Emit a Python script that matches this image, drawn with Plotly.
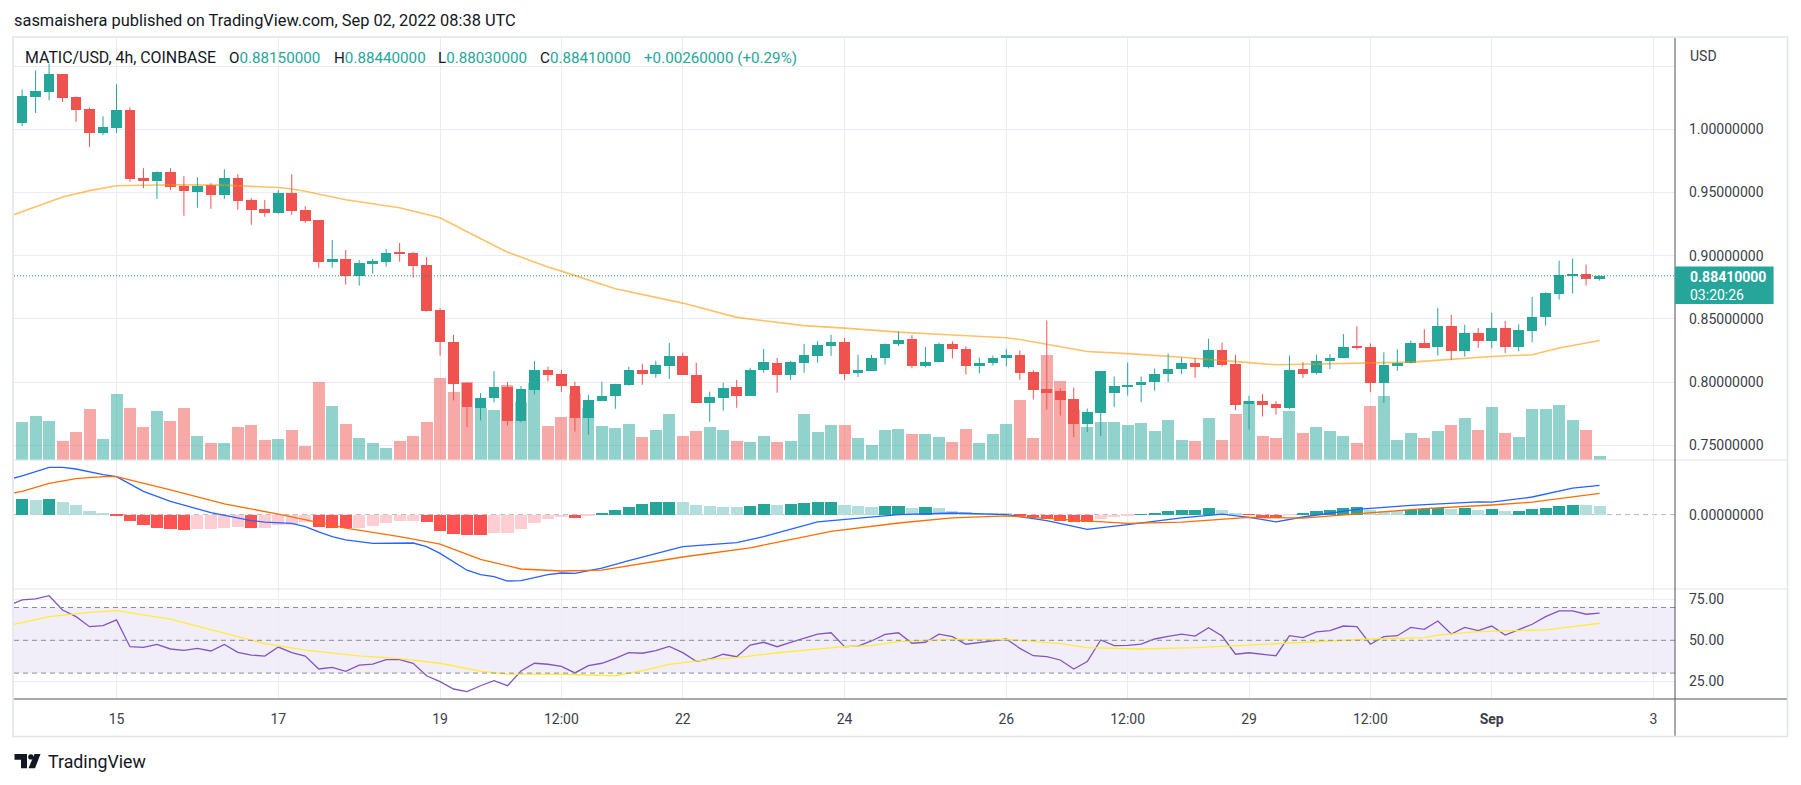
import plotly.graph_objects as go
from datetime import datetime, timedelta

# ---------------- data (MATIC/USD 4h, Coinbase) ----------------
first_bar = datetime(2022, 8, 13, 20, 0)      # time of bar #1 (UTC)
bar_hours = 4

opens = [1.005, 1.0255, 1.0295, 1.0434, 1.0253, 1.0158, 0.9971, 1.0008, 1.015, 0.9613,
         0.9592, 0.966, 0.9553, 0.9505, 0.9558, 0.9482, 0.9613, 0.944, 0.9368, 0.934,
         0.9495, 0.936, 0.9282, 0.8953, 0.8974, 0.8842, 0.8937, 0.8953, 0.9029, 0.9021,
         0.8926, 0.8571, 0.8318, 0.7995, 0.7797, 0.7871, 0.7963, 0.7689, 0.7939, 0.8095,
         0.8066, 0.7971, 0.7718, 0.7853, 0.7892, 0.7979, 0.8097, 0.8066, 0.8129, 0.8208,
         0.8058, 0.7837, 0.7876, 0.7963, 0.7892, 0.8097, 0.8153, 0.8058, 0.8153, 0.8208,
         0.8287, 0.8318, 0.8069, 0.8089, 0.8188, 0.8301, 0.834, 0.8131, 0.816, 0.8301,
         0.8264, 0.8131, 0.8154, 0.8188, 0.8216, 0.8076, 0.7944, 0.7926, 0.787, 0.7665,
         0.7752, 0.7912, 0.7968, 0.7976, 0.7999, 0.8063, 0.8102, 0.8154, 0.8123, 0.8255,
         0.8146, 0.7827, 0.7849, 0.7827, 0.7799, 0.8103, 0.8069, 0.8165, 0.8188, 0.8278,
         0.8278, 0.7996, 0.8131, 0.8154, 0.8312, 0.8278, 0.8447, 0.825, 0.8391, 0.8323,
         0.843, 0.8278, 0.8408, 0.8512, 0.8695, 0.8836, 0.8856, 0.8815]
highs = [1.0316, 1.0466, 1.052, 1.0434, 1.026, 1.0171, 1.0103, 1.0355, 1.0174, 0.9692,
         0.9668, 0.9692, 0.9629, 0.9621, 0.9574, 0.9684, 0.9645, 0.9455, 0.944, 0.9518,
         0.9645, 0.9392, 0.9282, 0.9124, 0.9045, 0.8966, 0.8974, 0.9053, 0.91, 0.9029,
         0.8989, 0.8584, 0.8374, 0.8000, 0.7913, 0.8087, 0.8, 0.7968, 0.8166, 0.8121,
         0.8097, 0.8003, 0.79, 0.8003, 0.7987, 0.8121, 0.8145, 0.8168, 0.8311, 0.8232,
         0.8153, 0.7924, 0.7995, 0.8018, 0.8113, 0.8263, 0.8192, 0.8168, 0.8303, 0.8326,
         0.8374, 0.835, 0.8216, 0.8216, 0.8306, 0.84, 0.8371, 0.8278, 0.8312, 0.8323,
         0.8284, 0.8193, 0.821, 0.8264, 0.825, 0.8094, 0.8487, 0.7952, 0.7957, 0.7791,
         0.8084, 0.8044, 0.8155, 0.8044, 0.8107, 0.8226, 0.8194, 0.8188, 0.8343, 0.8312,
         0.8216, 0.7892, 0.7906, 0.7849, 0.821, 0.8159, 0.8216, 0.8222, 0.838, 0.8442,
         0.8306, 0.8236, 0.8258, 0.8329, 0.8419, 0.8588, 0.8532, 0.8453, 0.8427, 0.8549,
         0.8484, 0.8456, 0.8673, 0.871, 0.8961, 0.8977, 0.893, 0.8844]
lows = [1.0026, 1.0129, 1.0229, 1.0216, 1.0058, 0.986, 0.9955, 0.9971, 0.9584, 0.9534,
        0.945, 0.952, 0.9316, 0.9379, 0.9371, 0.945, 0.9363, 0.9245, 0.9308, 0.9332,
        0.9324, 0.926, 0.8905, 0.8905, 0.8771, 0.8763, 0.8858, 0.8913, 0.8953, 0.8826,
        0.8558, 0.821, 0.7855, 0.7642, 0.7697, 0.7839, 0.7658, 0.7682, 0.7903, 0.8005,
        0.7924, 0.7608, 0.7584, 0.7853, 0.7789, 0.7971, 0.7979, 0.8034, 0.8026, 0.8058,
        0.7837, 0.7687, 0.7774, 0.7797, 0.7892, 0.8074, 0.7916, 0.8018, 0.8074, 0.8153,
        0.8208, 0.8018, 0.8041, 0.8089, 0.814, 0.8287, 0.8109, 0.8117, 0.8154, 0.8188,
        0.8061, 0.8069, 0.8131, 0.8126, 0.8019, 0.7862, 0.7783, 0.7736, 0.7565, 0.7604,
        0.7573, 0.7802, 0.7894, 0.7841, 0.7933, 0.7999, 0.8063, 0.8033, 0.8109, 0.8123,
        0.7779, 0.7624, 0.7728, 0.7742, 0.7787, 0.8033, 0.8061, 0.8103, 0.8188, 0.8258,
        0.792, 0.7835, 0.8089, 0.8146, 0.8267, 0.821, 0.8174, 0.8202, 0.8272, 0.8267,
        0.823, 0.8244, 0.8315, 0.8447, 0.8653, 0.8701, 0.8763, 0.8803]
closes = [1.026, 1.030, 1.0434, 1.0247, 1.0153, 0.9971, 1.0016, 1.015, 0.9608, 0.9592,
          0.966, 0.9545, 0.9513, 0.9553, 0.9482, 0.9613, 0.9434, 0.9363, 0.934, 0.9495,
          0.9355, 0.9276, 0.8953, 0.8974, 0.8842, 0.8942, 0.8958, 0.9021, 0.9016, 0.8921,
          0.8566, 0.8321, 0.7982, 0.7805, 0.7874, 0.796, 0.7689, 0.7945, 0.8095, 0.8053,
          0.7966, 0.7718, 0.7861, 0.7892, 0.7987, 0.8097, 0.8066, 0.8137, 0.8208, 0.8058,
          0.7837, 0.7884, 0.7955, 0.7892, 0.8097, 0.816, 0.8058, 0.816, 0.8216, 0.8295,
          0.8318, 0.8066, 0.8098, 0.8188, 0.8301, 0.8334, 0.8131, 0.816, 0.8301, 0.8258,
          0.8131, 0.8154, 0.8193, 0.8216, 0.8069, 0.7936, 0.7912, 0.7862, 0.7665, 0.776,
          0.8084, 0.7973, 0.7981, 0.7997, 0.8068, 0.8107, 0.8155, 0.8123, 0.8255, 0.8137,
          0.7821, 0.7849, 0.7821, 0.7799, 0.8098, 0.8061, 0.8165, 0.8193, 0.8278, 0.8272,
          0.7996, 0.8137, 0.8154, 0.8312, 0.8272, 0.8447, 0.825, 0.8391, 0.8323, 0.843,
          0.8278, 0.8413, 0.8518, 0.8701, 0.8848, 0.8856, 0.8815, 0.8841]
volume_10k = [38.3, 44, 39, 19, 28, 51, 21, 66, 52, 33, 49, 39, 52, 24, 17, 17, 33, 35, 20, 21,
              30, 14, 78, 54, 36, 22, 17, 12, 19, 24, 38, 82, 68, 78, 52, 50, 75, 58, 77, 34,
              43, 66, 52, 34, 32, 36, 23, 30, 46, 24, 29, 33, 30, 19, 18, 24, 18, 19, 46, 28,
              35, 35, 22.5, 15, 30, 31, 25.7, 26.4, 23, 18, 31, 17, 26, 36, 60, 22, 105, 79, 50, 33,
              38, 38, 35, 37, 29, 40, 20, 18.6, 42.5, 20, 46, 59, 24, 22.5, 49, 27.5, 33, 29, 24, 17.5,
              54, 64, 20, 27.5, 22.5, 29, 35, 42.5, 30, 53, 27.5, 23, 51, 51, 55, 40, 30, 4.3]

# moving average on price (sampled at bar numbers; bar 0 = bar before the first)
ma_bar = [0, 4, 6, 8, 12, 16, 20, 21, 22, 25, 29, 32, 34, 37, 40, 41, 45, 50, 54, 59,
          62, 66, 70, 74, 75, 77, 80, 83, 86, 87, 92, 94, 97, 101, 104, 110, 113, 115, 118]
ma_val = [0.931, 0.9465, 0.9515, 0.9553, 0.9561, 0.9558, 0.9539, 0.9528, 0.9510, 0.9443,
          0.9380, 0.9300, 0.9190, 0.9028, 0.8910, 0.8878, 0.8738, 0.8625, 0.8512, 0.8447,
          0.8427, 0.8395, 0.8373, 0.8351, 0.8337, 0.8300, 0.8242, 0.8225, 0.8205, 0.8197,
          0.8154, 0.8137, 0.8143, 0.8154, 0.8158, 0.8202, 0.8216, 0.8270, 0.8329]

# MACD
macd_bar = [0, 1, 3, 4, 5, 7, 8, 10, 12, 15, 18, 19, 21, 22, 23, 24, 25, 27, 30, 31,
            32, 34, 35, 36, 37, 38, 40, 41, 42, 44, 46, 50, 54, 56, 60, 66, 70, 74, 77, 80,
            83, 87, 90, 92, 94, 96, 100, 104, 109, 110, 113, 116, 118]
macd_val = [0.0088, 0.0097, 0.0118, 0.0118, 0.0114, 0.0100, 0.0095, 0.0058, 0.0033, 0.0005,
            -0.0015, -0.0019, -0.0022, -0.0030, -0.0043, -0.0055, -0.0063, -0.0072, -0.0071, -0.0080,
            -0.0097, -0.0139, -0.0150, -0.0155, -0.0166, -0.0165, -0.0150, -0.0146, -0.0147, -0.0134,
            -0.0115, -0.0080, -0.0070, -0.0055, -0.0018, 0.0000, 0.0004, 0.0000, -0.0015, -0.0037,
            -0.0025, -0.0008, 0.0001, -0.0007, -0.0018, -0.0006, 0.0013, 0.0023, 0.0032, 0.0031,
            0.0044, 0.0066, 0.0073]
signal_bar = [0, 1, 3, 5, 7, 8, 12, 16, 20, 25, 29, 32, 35, 38, 41, 44, 50, 55, 61, 66,
              70, 74, 79, 83, 87, 92, 96, 101, 105, 110, 113, 118]
signal_val = [0.0052, 0.0058, 0.0078, 0.0090, 0.0095, 0.0095, 0.0062, 0.0027, 0.0001, -0.0034,
              -0.0055, -0.0074, -0.0112, -0.0136, -0.0141, -0.0139, -0.0106, -0.0083, -0.0042, -0.0021,
              -0.0008, -0.0003, -0.0014, -0.0022, -0.0019, -0.0007, -0.0009, 0.0004, 0.0015, 0.0024,
              0.0031, 0.0053]
hist_val = [0.0038, 0.0037, 0.0038, 0.0032, 0.0023, 0.0010, 0.0003, -0.0002, -0.0017, -0.0027,
            -0.0033, -0.0037, -0.0039, -0.0037, -0.0036, -0.0033, -0.0032, -0.0034, -0.0033, -0.0027,
            -0.0025, -0.0019, -0.0032, -0.0033, -0.0034, -0.0033, -0.0029, -0.0022, -0.0017, -0.0015,
            -0.0019, -0.0040, -0.0049, -0.0050, -0.0051, -0.0046, -0.0045, -0.0035, -0.0022, -0.0012,
            -0.0007, -0.0008, -0.0003, 0.0004, 0.0012, 0.0020, 0.0027, 0.0031, 0.0032, 0.0031,
            0.0024, 0.0021, 0.0020, 0.0018, 0.0021, 0.0026, 0.0025, 0.0027, 0.0030, 0.0031,
            0.0032, 0.0024, 0.0021, 0.0020, 0.0021, 0.0022, 0.0017, 0.0018, 0.0016, 0.0009,
            0.0006, 0.0005, 0.0004, 0.0003, -0.0003, -0.0007, -0.0012, -0.0016, -0.0018, -0.0019,
            -0.0010, -0.0007, -0.0003, 0.0001, 0.0005, 0.0008, 0.0011, 0.0012, 0.0017, 0.0011,
            0.0005, -0.0001, -0.0007, -0.0008, -0.0001, 0.0005, 0.0008, 0.0011, 0.0017, 0.0018,
            0.0011, 0.0009, 0.0008, 0.0011, 0.0015, 0.0017, 0.0015, 0.0017, 0.0012, 0.0013,
            0.0009, 0.0010, 0.0013, 0.0017, 0.0021, 0.0024, 0.0023, 0.0021]

# RSI, one value per bar starting at bar 0
rsi_val = [71.3,
           74.6, 75.2, 77.2, 68.5, 64.4, 58.3, 58.9, 62.4, 46.1, 45.7,
           47.5, 44.7, 43.9, 45.1, 43.5, 47.5, 42.7, 41.0, 40.4, 45.9,
           42.5, 40.4, 32.5, 33.5, 31.1, 34.9, 35.5, 38.2, 38.2, 36.0,
           28.4, 24.8, 20.3, 18.7, 22.3, 25.4, 22.3, 31.3, 36.0, 35.4,
           34.1, 30.1, 34.5, 36.0, 39.0, 42.5, 42.1, 43.7, 46.3, 42.5,
           37.2, 38.6, 41.5, 40.0, 47.1, 48.8, 46.1, 48.8, 51.2, 53.8,
           54.6, 46.1, 46.5, 49.6, 53.6, 54.6, 48.2, 48.8, 53.7, 52.2,
           47.6, 48.5, 49.6, 50.8, 45.1, 40.6, 40.0, 38.0, 32.5, 37.0,
           50.2, 46.7, 46.9, 47.7, 50.8, 52.4, 53.8, 52.6, 57.7, 52.6,
           41.5, 42.4, 41.5, 40.6, 52.8, 51.6, 55.1, 55.9, 58.7, 58.3,
           47.6, 52.2, 52.8, 57.9, 56.7, 61.8, 53.8, 57.9, 55.9, 58.7,
           53.2, 56.7, 59.8, 64.4, 67.9, 67.9, 65.9, 66.6]
rsi_ma_bar = [0, 3, 6, 8, 12, 15, 16, 19, 22, 26, 29, 32, 35, 37, 41, 45, 47, 49, 52, 54,
              57, 62, 64, 66, 70, 74, 78, 80, 84, 88, 92, 96, 101, 105, 106, 109, 114, 116, 118]
rsi_ma_val = [59.0, 64.5, 67.0, 68.1, 62.9, 56.5, 54.8, 48.0, 44.0, 40.5,
              38.8, 36.0, 31.2, 29.4, 29.3, 28.4, 31.5, 35.3, 38.4, 39.4,
              42.4, 46.1, 46.8, 49.2, 50.6, 50.6, 48.0, 45.5, 44.7, 45.5,
              47.1, 48.8, 50.8, 51.6, 53.2, 55.3, 56.3, 58.3, 60.4]

last_price = 0.8841
countdown = "03:20:26"
tick_dates = ["2022-08-15", "2022-08-17", "2022-08-19", "2022-08-20 12:00", "2022-08-22",
              "2022-08-24", "2022-08-26", "2022-08-27 12:00", "2022-08-29", "2022-08-30 12:00",
              "2022-09-01", "2022-09-03"]
tick_text = ["15", "17", "19", "12:00", "22", "24", "26", "12:00", "29", "12:00", "<b>Sep</b>", "3"]
price_ticks = [0.75, 0.80, 0.85, 0.90, 0.95, 1.00, 1.05]
price_tick_text = ["0.75000000", "0.80000000", "0.85000000", "0.90000000", "0.95000000", "1.00000000", ""]
rsi_ticks = [25, 50, 75]
rsi_levels = [70, 50, 30]

# ---------------- styling / geometry ----------------
W, H = 1801, 785
PL, PR, PT, PB = 14, 1675, 38, 699          # plot area in pixels
Y_MAIN_BOT, Y_MACD_BOT = 460, 589
UP, DOWN = "#26A69A", "#EF5350"
GRID = "#E9EDF3"
TXT = "#131722"
AX_TXT = "#3b3e48"
FONT = "Roboto, Arial, sans-serif"


def px(X, Y):
    return (X - PL) / (PR - PL), (PB - Y) / (PB - PT)


def bar_time(n):
    return first_bar + timedelta(hours=bar_hours * (n - 1))


n_bars = len(closes)
times = [bar_time(n) for n in range(1, n_bars + 1)]
step_ms = bar_hours * 3600 * 1000
is_up = [c >= o for o, c in zip(opens, closes)]

fig = go.Figure()

# volume
fig.add_trace(go.Bar(x=times, y=volume_10k, width=0.89 * step_ms, xaxis="x", yaxis="y2",
                     marker=dict(color=["rgba(38,166,154,0.5)" if u else "rgba(239,83,80,0.5)" for u in is_up],
                                 line=dict(width=0)), hoverinfo="skip"))

# MA line
fig.add_trace(go.Scatter(x=[bar_time(n) for n in ma_bar], y=ma_val, mode="lines", xaxis="x", yaxis="y",
                         line=dict(color="rgba(255,152,0,0.6)", width=1.6), hoverinfo="skip"))

# wicks
for flag, col in ((True, UP), (False, DOWN)):
    wx, wy = [], []
    for t, h, l, u in zip(times, highs, lows, is_up):
        if u == flag:
            wx += [t, t, None]
            wy += [l, h, None]
    fig.add_trace(go.Scatter(x=wx, y=wy, mode="lines", xaxis="x", yaxis="y",
                             line=dict(color=col, width=1), hoverinfo="skip"))

# bodies
fig.add_trace(go.Bar(x=times, y=[max(abs(c - o), 0.0008) for o, c in zip(opens, closes)],
                     base=[min(o, c) for o, c in zip(opens, closes)], width=0.79 * step_ms,
                     xaxis="x", yaxis="y",
                     marker=dict(color=[UP if u else DOWN for u in is_up], line=dict(width=0)),
                     hoverinfo="skip"))

# MACD histogram
hcol = []
for i, v in enumerate(hist_val):
    prev = hist_val[i - 1] if i > 0 else -1
    if v >= 0:
        hcol.append("#26A69A" if v > prev else "#B2DFDB")
    else:
        hcol.append("#FFCDD2" if v > prev else "#FF5252")
fig.add_trace(go.Bar(x=times, y=hist_val, width=0.9 * step_ms, xaxis="x2", yaxis="y3",
                     marker=dict(color=hcol, line=dict(width=0)), hoverinfo="skip"))
fig.add_trace(go.Scatter(x=[bar_time(n) for n in macd_bar], y=macd_val, mode="lines", xaxis="x2", yaxis="y3",
                         line=dict(color="#2962FF", width=1.3), hoverinfo="skip"))
fig.add_trace(go.Scatter(x=[bar_time(n) for n in signal_bar], y=signal_val, mode="lines", xaxis="x2", yaxis="y3",
                         line=dict(color="#FF6D00", width=1.3), hoverinfo="skip"))

# RSI
fig.add_trace(go.Scatter(x=[bar_time(n) for n in range(0, len(rsi_val))], y=rsi_val, mode="lines",
                         xaxis="x3", yaxis="y4", line=dict(color="#7E57C2", width=1.3), hoverinfo="skip"))
fig.add_trace(go.Scatter(x=[bar_time(n) for n in rsi_ma_bar], y=rsi_ma_val, mode="lines",
                         xaxis="x3", yaxis="y4", line=dict(color="#FFEB3B", width=1.3), hoverinfo="skip"))

x_range = ["2022-08-13 17:35:25", "2022-09-03 06:22:47"]
d_main = [(PB - Y_MAIN_BOT) / (PB - PT), 1]
d_macd = [(PB - Y_MACD_BOT) / (PB - PT), (PB - Y_MAIN_BOT) / (PB - PT)]
d_rsi = [0, (PB - Y_MACD_BOT) / (PB - PT)]

xcommon = dict(type="date", range=x_range, tickvals=tick_dates, ticktext=tick_text, showgrid=True,
               gridcolor=GRID, gridwidth=1, zeroline=False, showline=False, ticks="")
yfont = dict(family=FONT, size=14, color=AX_TXT)

shapes = []
# RSI band and levels
shapes.append(dict(type="rect", xref="x3 domain", yref="y4", x0=0, x1=1, y0=30, y1=70,
                   fillcolor="rgba(126,87,194,0.1)", line=dict(width=0), layer="below"))
for lv in rsi_levels:
    shapes.append(dict(type="line", xref="x3 domain", yref="y4", x0=0, x1=1, y0=lv, y1=lv,
                       line=dict(color="#8a8d96", width=1, dash="5px,4px"), layer="above"))
# MACD zero
shapes.append(dict(type="line", xref="x2 domain", yref="y3", x0=0, x1=1, y0=0, y1=0,
                   line=dict(color="rgba(120,123,134,0.55)", width=1, dash="5px,4px"), layer="below"))
# last price line
shapes.append(dict(type="line", xref="x domain", yref="y", x0=0, x1=1, y0=last_price, y1=last_price,
                   line=dict(color="#1e8c82", width=1, dash="1px,2px"), layer="above"))

# frame / separators / axis lines (pixel geometry)
def pline(X0, Y0, X1, Y1, color, w=1):
    a, b = px(X0, Y0)
    c, d = px(X1, Y1)
    shapes.append(dict(type="line", xref="paper", yref="paper", x0=a, y0=b, x1=c, y1=d,
                       line=dict(color=color, width=w), layer="above"))

def prect(X0, Y0, X1, Y1, fill, lw=0, lc=None):
    a, b = px(X0, Y0)
    c, d = px(X1, Y1)
    shapes.append(dict(type="rect", xref="paper", yref="paper", x0=a, y0=b, x1=c, y1=d,
                       fillcolor=fill, line=dict(width=lw, color=lc or fill), layer="above"))

pline(13.5, Y_MAIN_BOT, 1787, Y_MAIN_BOT, "#E0E3EB")
pline(13.5, Y_MACD_BOT, 1787, Y_MACD_BOT, "#E0E3EB")
pline(13.5, PB, 1787, PB, "#50535E")
pline(PR, PT, PR, 736, "#50535E")
a, b = px(13, 37)
c, d = px(1787.5, 736.5)
shapes.append(dict(type="rect", xref="paper", yref="paper", x0=a, y0=d, x1=c, y1=b,
                   fillcolor="rgba(0,0,0,0)", line=dict(color="#E0E3EB", width=1.5), layer="above"))
# last price label box
prect(PR, 266.4, 1773.6, 304, UP)

# TradingView logo mark
def ppath(points):
    s = ""
    for i, (X, Y) in enumerate(points):
        a, b = px(X, Y)
        s += ("M" if i == 0 else "L") + f"{a:.6f},{b:.6f}"
    return s + "Z"

shapes.append(dict(type="path", xref="paper", yref="paper", layer="above",
                   path=ppath([(14.5, 754), (27, 754), (27, 768.3), (21, 768.3), (21, 759.8), (14.5, 759.8)]),
                   fillcolor="#131722", line=dict(width=0)))
a, b = px(28.2, 754.2)
c, d = px(33.6, 759.6)
shapes.append(dict(type="circle", xref="paper", yref="paper", x0=a, y0=d, x1=c, y1=b, layer="above",
                   fillcolor="#131722", line=dict(width=0)))
shapes.append(dict(type="path", xref="paper", yref="paper", layer="above",
                   path=ppath([(34.5, 754), (40.5, 754), (35, 768.3), (28.5, 768.3)]),
                   fillcolor="#131722", line=dict(width=0)))

annotations = []
def ptext(X, Y, text, size=14, color=TXT, anchor="left", family=FONT, **kw):
    a, b = px(X, Y)
    annotations.append(dict(xref="paper", yref="paper", x=a, y=b, text=text, showarrow=False,
                            xanchor=anchor, yanchor="middle", font=dict(family=family, size=size, color=color), **kw))

ptext(12, 21, "sasmaishera published on TradingView.com, Sep 02, 2022 08:38 UTC", size=16.4)
ptext(23, 58, "MATIC/USD, 4h, COINBASE", size=15.9)
vfmt = "{:.8f}"
ptext(227, 58, f"O<span style='color:{UP}'>{vfmt.format(opens[-1])}</span>", size=15.2)
ptext(331.5, 58, f"H<span style='color:{UP}'>{vfmt.format(highs[-1])}</span>", size=15.2)
ptext(436, 58, f"L<span style='color:{UP}'>{vfmt.format(lows[-1])}</span>", size=15.2)
ptext(538, 58, f"C<span style='color:{UP}'>{vfmt.format(closes[-1])}</span>", size=15.2)
chg = closes[-1] - opens[-1]
ptext(641.5, 58, f"+{chg:.8f} (+{chg / opens[-1] * 100:.2f}%)", size=15.2, color=UP)
ptext(1688, 56, "USD", size=14, color=AX_TXT)
ptext(1688, 277, f"<b>{last_price:.8f}</b>", size=14, color="white")
ptext(1688, 294.5, countdown, size=14, color="white")
ptext(45.5, 761, "TradingView", size=17.8, color=TXT)

fig.update_layout(
    width=W, height=H, margin=dict(l=PL, r=W - PR, t=PT, b=H - PB, pad=0),
    paper_bgcolor="white", plot_bgcolor="white", showlegend=False, barmode="overlay", bargap=0,
    font=dict(family=FONT, size=14, color=AX_TXT),
    xaxis=dict(domain=[0, 1], anchor="y", showticklabels=False, **xcommon),
    xaxis2=dict(domain=[0, 1], anchor="y3", matches="x", showticklabels=False, **xcommon),
    xaxis3=dict(domain=[0, 1], anchor="y4", matches="x", showticklabels=True,
                tickfont=dict(family=FONT, size=14, color=AX_TXT), ticklabelstandoff=10, **xcommon),
    yaxis=dict(domain=d_main, anchor="x", side="right", range=[0.73837, 1.07223], tickvals=price_ticks,
               ticktext=price_tick_text, showgrid=True, gridcolor=GRID, zeroline=False, showline=False,
               ticks="", tickfont=yfont, ticklabelstandoff=13),
    yaxis2=dict(overlaying="y", anchor="x", range=[0, 422], visible=False),
    yaxis3=dict(domain=d_macd, anchor="x2", side="right", range=[-0.0186, 0.01365], tickvals=[0],
                ticktext=["0.00000000"], showgrid=False, zeroline=False, showline=False, ticks="",
                tickfont=yfont, ticklabelstandoff=13),
    yaxis4=dict(domain=d_rsi, anchor="x3", side="right", range=[14.21, 81.28], tickvals=rsi_ticks,
                tickformat=".2f", showgrid=True, gridcolor=GRID, zeroline=False, showline=False, ticks="",
                tickfont=yfont, ticklabelstandoff=13),
    shapes=shapes, annotations=annotations,
)

fig.write_html("out.html", config={"displayModeBar": False},
               post_script="document.body.style.margin='0px';")
